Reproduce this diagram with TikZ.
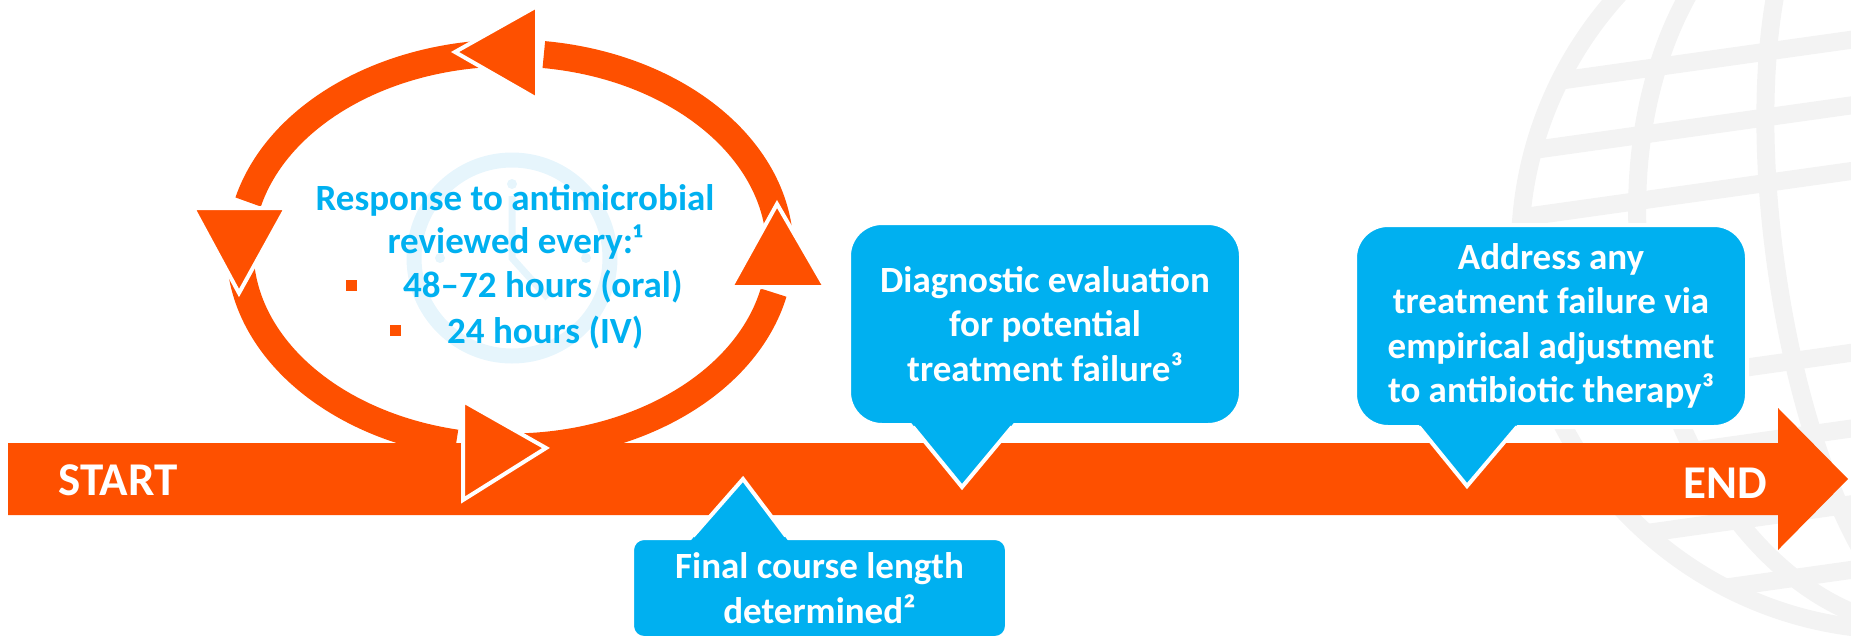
\documentclass[tikz,border=0pt]{standalone}
\usepackage{fontspec}
\setmainfont{Carlito}
\usepackage{tikz}
\definecolor{orangeA}{RGB}{254,80,0}
\definecolor{blueA}{RGB}{0,176,240}
\definecolor{globeGrey}{RGB}{243,243,243}
\definecolor{clockBlue}{RGB}{230,245,252}

\tikzset{
  bar/.style={fill=orangeA},
  ring/.style={draw=orangeA, line width=27pt},
  cyclehead/.style={fill=orangeA, draw=white, line width=4pt},
  bubble/.style={fill=blueA, draw=white, line width=4pt, inner sep=0pt, text=white, align=center,
    font=\bfseries\fontsize{37}{44.5}\selectfont},
  pointer/.style={fill=blueA},
  pointerline/.style={draw=white, line width=4pt},
  cyctext/.style={text=blueA, inner sep=0pt, font=\bfseries\fontsize{37}{44.5}\selectfont},
  bullet/.style={rectangle, fill=orangeA, minimum size=11pt, inner sep=0pt},
  endtext/.style={text=white, inner sep=0pt, font=\bfseries\fontsize{47}{56}\selectfont},
  globe/.style={draw=globeGrey, line width=18pt},
  clock/.style={draw=clockBlue, line width=15pt},
}

\begin{document}
\begin{tikzpicture}[x=1pt, y=-1pt]
  \useasboundingbox (0,0) rectangle (1851,638);

  % globe in the background
  \begin{scope}
    \clip (0,0) rectangle (1851,638);
    \begin{scope}[shift={(1900,250)}, rotate=8]
      \draw[globe] (0,0) circle [radius=380];
      \draw[globe] (0,0) ellipse [x radius=260, y radius=380];
      \draw[globe] (0,0) ellipse [x radius=125, y radius=380];
      \clip (0,0) circle [radius=380];
      \draw[globe] (-400,-215) -- (400,-215);
      \draw[globe] (-400,-150) -- (400,-150);
      \draw[globe] (-400,-85) -- (400,-85);
      \draw[globe] (-400,95) -- (400,95);
      \draw[globe] (-400,170) -- (400,170);
      \draw[globe] (-400,245) -- (400,245);
      \draw[globe] (-400,310) -- (400,310);
    \end{scope}
  \end{scope}

  % clock
  \draw[clock] (512,258) circle [radius=98];
  \draw[clock, line width=7pt] (512,196) -- (512,258) -- (548,298);
  \fill[clockBlue] (440,258) circle [radius=5] (586,258) circle [radius=5] (512,184) circle [radius=5];

  % timeline
  \fill[bar] (8,443) -- (1778,443) -- (1778,408) -- (1848,479) -- (1778,550) -- (1778,515) -- (8,515) -- cycle;
  \node[endtext, anchor=base west] (start) at (58,495) {START};
  \node[endtext, anchor=base west] (end) at (1683,498) {END};

  % review cycle
  \draw[ring] ([shift={(-92:270 and 197)}]510,250) arc[start angle=-92, end angle=-165.9, x radius=270, y radius=197];
  \draw[ring] ([shift={(-180:270 and 197)}]510,250) arc[start angle=-180, end angle=-258.5, x radius=270, y radius=197];
  \draw[ring] ([shift={(-270:270 and 197)}]510,250) arc[start angle=-270, end angle=-347.5, x radius=270, y radius=197];
  \draw[ring] ([shift={(0:270 and 197)}]510,250) arc[start angle=0, end angle=-82.8, x radius=270, y radius=197];
  \draw[cyclehead] (537,6) -- (537,99) -- (455,52) -- cycle;
  \draw[cyclehead] (193,208) -- (286,208) -- (239,293) -- cycle;
  \draw[cyclehead] (463,401) -- (463,500) -- (546,448) -- cycle;
  \draw[cyclehead] (731,287) -- (825,287) -- (777,204) -- cycle;

  \node[cyctext, anchor=base] (resp1) at (515,210) {Response to antimicrobial};
  \node[cyctext, anchor=base] (resp2) at (515,253) {reviewed every:¹};
  \node[bullet] (b1) at (351.5,285) {};
  \node[cyctext, anchor=base west] (oral) at (403,297) {48–72 hours (oral)};
  \node[bullet] (b2) at (395,330.5) {};
  \node[cyctext, anchor=base west] (iv) at (447,343) {24 hours (IV)};

  % callouts
  \node[bubble, rounded corners=33pt, minimum width=392pt, minimum height=202pt] (diag) at (1045,324)
    {Diagnostic evaluation\\for potential\\treatment failure³};
  \fill[pointer] (909.8,421) -- (962,487) -- (1015.2,421) -- cycle;
  \draw[pointerline] (913,427) -- (962,487) -- (1012,427);

  \node[bubble, rounded corners=33pt, minimum width=392pt, minimum height=202pt] (adjust) at (1551,326)
    {Address any\\treatment failure via\\empirical adjustment\\to antibiotic therapy³};
  \fill[pointer] (1415.9,421) -- (1467,486) -- (1520.3,421) -- cycle;
  \draw[pointerline] (1419,427) -- (1467,486) -- (1517,427);

  \node[bubble, rounded corners=12pt, minimum width=375pt, minimum height=100pt] (final) at (819.5,588)
    {Final course length\\determined²};
  \fill[pointer] (689.6,542) -- (743,479) -- (788.9,542) -- cycle;
  \draw[pointerline] (693,536) -- (743,479) -- (786,536);
\end{tikzpicture}
\end{document}
